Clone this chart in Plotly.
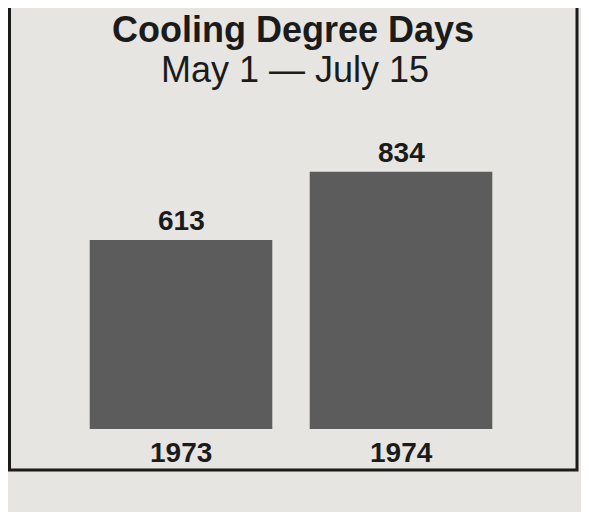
import plotly.graph_objects as go

# ---- data ----
years = ["1973", "1974"]
cooling_degree_days = [613, 834]
title_line1 = "Cooling Degree Days"
title_line2 = "May 1 \u2014 July 15"

# ---- style / layout constants ----
OFF = 8                      # default page body margin
W, H = 589 - OFF, 512 - OFF
ML, MR, MT, MB = 71 - OFF, 78, 100 - OFF, 83
PW, PH = W - ML - MR, H - MT - MB
BG = "#e6e5e1"
BAR = "#5c5c5c"
INK = "#1b1b1b"
FONT = "Liberation Sans, Arial, Helvetica, sans-serif"
YMAX = 1067


def px_x(px):
    return (px - OFF - ML) / PW


def px_y(py):
    return (H - MB - (py - OFF)) / PH


fig = go.Figure()
fig.add_trace(go.Bar(
    x=years, y=cooling_degree_days,
    marker=dict(color=BAR, line=dict(width=0)),
    width=0.83, hoverinfo="skip",
))

annotations = []
for i, (yr, v) in enumerate(zip(years, cooling_degree_days)):
    annotations.append(dict(x=i, y=v, xref="x", yref="y", text=f"<b>{v}</b>",
                            showarrow=False, yanchor="bottom", yshift=2,
                            font=dict(family=FONT, size=28, color=INK)))
    annotations.append(dict(x=i, y=0, xref="x", yref="y", text=f"<b>{yr}</b>",
                            showarrow=False, yanchor="top", yshift=-6,
                            font=dict(family=FONT, size=28, color=INK)))

annotations.append(dict(x=px_x(293), y=px_y(29), xref="paper", yref="paper",
                        text=f"<b>{title_line1}</b>", showarrow=False,
                        xanchor="center", yanchor="middle",
                        font=dict(family=FONT, size=36, color=INK)))
annotations.append(dict(x=px_x(295), y=px_y(69), xref="paper", yref="paper",
                        text=title_line2, showarrow=False,
                        xanchor="center", yanchor="middle",
                        font=dict(family=FONT, size=36, color=INK)))

border = (f"M {px_x(9.5)},{px_y(-20)} L {px_x(9.5)},{px_y(470)} "
          f"L {px_x(577)},{px_y(470)} L {px_x(577)},{px_y(-20)}")
shapes = [dict(type="path", xref="paper", yref="paper", path=border,
               line=dict(color=INK, width=3))]

fig.update_layout(
    width=W, height=H,
    margin=dict(l=ML, r=MR, t=MT, b=MB, pad=0),
    paper_bgcolor=BG, plot_bgcolor=BG,
    showlegend=False,
    xaxis=dict(type="category", range=[-0.5, 1.5], showticklabels=False,
               showgrid=False, zeroline=False, showline=False, ticks=""),
    yaxis=dict(range=[0, YMAX], showticklabels=False, showgrid=False,
               zeroline=False, showline=False, ticks=""),
    annotations=annotations,
    shapes=shapes,
)

fig.write_html("out.html")
